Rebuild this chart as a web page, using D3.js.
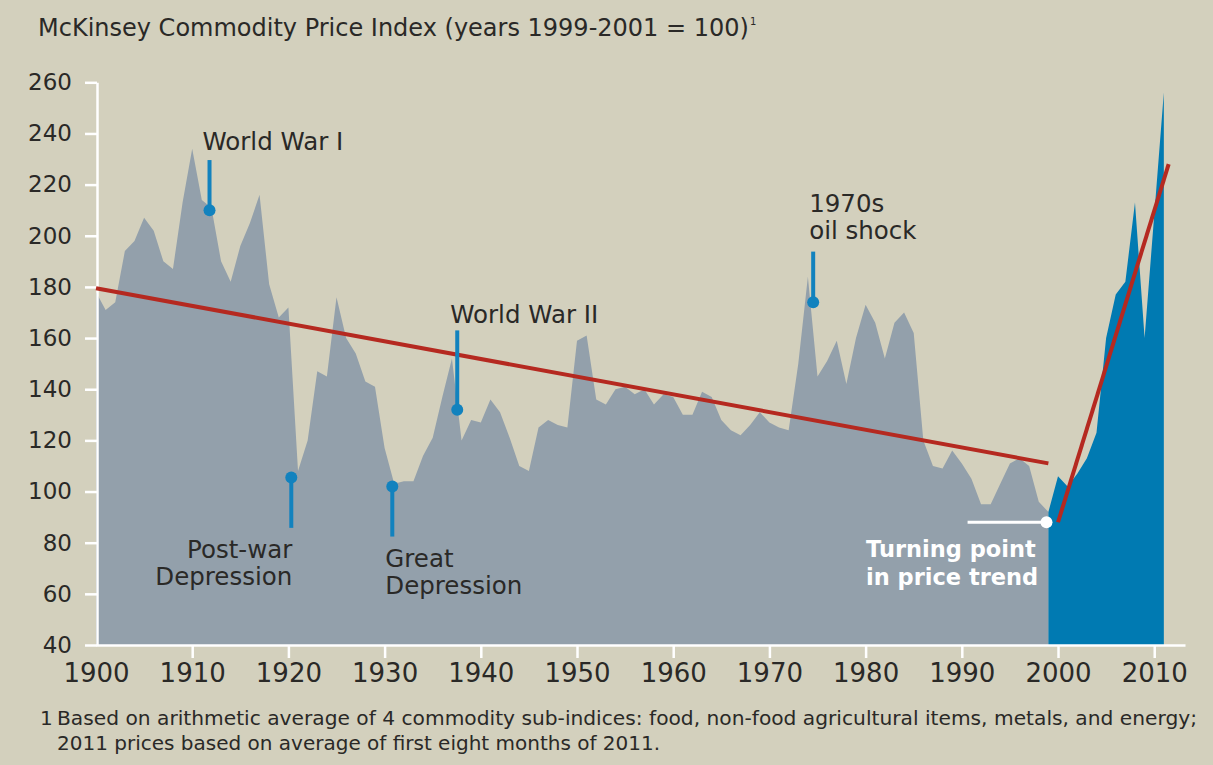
<!DOCTYPE html>
<html>
<head>
<meta charset="utf-8">
<script src="https://cdn.jsdelivr.net/npm/d3@7"></script>
<style>
  body { margin: 0; background: #d3d0bd; }
  text { font-family: "DejaVu Sans", sans-serif; fill: #2a2927; }
</style>
</head>
<body>
<div id="chart"></div>
<script>

// index values (1999-2001 = 100)
const grayYears = d3.range(1900, 2000);
const grayValues = [
  178, 171, 174, 194, 198, 207, 202, 190, 187, 213,
  234, 214, 211, 190, 182, 196, 205, 216, 181, 168,
  172, 108, 120, 147, 145, 176, 160, 154, 143, 141,
  117, 103, 104, 104, 114, 121, 137, 152, 120, 128,
  127, 136, 131, 121, 110, 108, 125, 128, 126, 125,
  159, 161, 136, 134, 140, 141, 138, 140, 134, 138,
  137, 130, 130, 139, 137, 128, 124, 122, 126, 131,
  127, 125, 124, 150, 184, 145, 151, 159, 142, 160,
  173, 166, 152, 166, 170, 162, 120, 110, 109, 116,
  111, 105, 95, 95, 103, 111, 113, 110, 96, 92
];

const blueYears = [1999, 2000, 2001, 2002, 2003, 2004, 2005, 2006, 2007, 2008, 2009, 2010, 2011];
const blueValues = [92, 106, 102, 107, 113, 123, 160, 177, 182, 213, 160, 208, 256];

// trend lines [year, value]
const trendOld = [[1900, 179.5], [1999, 111]];
const trendNew = [[2000, 88], [2011.5, 228]];

const yTicks = [40, 60, 80, 100, 120, 140, 160, 180, 200, 220, 240, 260];
const xTicks = [1900, 1910, 1920, 1930, 1940, 1950, 1960, 1970, 1980, 1990, 2000, 2010];

// event markers: dot year/value and where the stem ends
const eventNames = [["World War I"], ["Post-war", "Depression"], ["Great", "Depression"], ["World War II"], ["1970s", "oil shock"]];
const eventYears = [1911.8, 1920.3, 1930.8, 1937.55, 1974.55];
const eventValues = [210, 105.5, 102, 132, 174];
const eventStemTo = [229.6, 85.8, 82.4, 163, 193.8];

const turnYear = 1998.8;
const turnValue = 88;
const turnLineFrom = 1990.6;

const title = "McKinsey Commodity Price Index (years 1999-2001 = 100)";
const footnote = [
  "Based on arithmetic average of 4 commodity sub-indices: food, non-food agricultural items, metals, and energy;",
  "2011 prices based on average of first eight months of 2011."
];

const width = 1213, height = 765;

const svg = d3.select("#chart")
  .append("svg")
  .attr("width", width)
  .attr("height", height);

svg.append("rect")
  .attr("width", width)
  .attr("height", height)
  .attr("fill", "#d3d0bd");

// scales
const x = d3.scaleLinear().domain([1900, 2013.2]).range([96, 1185]);
const y = d3.scaleLinear().domain([40, 260]).range([645, 82.3]);

const area = d3.area()
  .x(d => x(d[0]))
  .y0(y(40))
  .y1(d => y(d[1]));

svg.append("path")
  .datum(grayYears.map((yr, i) => [yr, grayValues[i]]))
  .attr("fill", "#93a0ab")
  .attr("d", area);

svg.append("path")
  .datum(blueYears.map((yr, i) => [yr, blueValues[i]]))
  .attr("fill", "#007ab2")
  .attr("d", area);

// axes
const yAxis = svg.append("g")
  .attr("transform", "translate(97,0)")
  .call(d3.axisLeft(y).tickValues(yTicks).tickSize(12).tickSizeOuter(0).tickPadding(13));

const xAxis = svg.append("g")
  .attr("transform", `translate(0,${y(40)})`)
  .call(d3.axisBottom(x).tickValues(xTicks).tickSize(13).tickSizeOuter(0).tickPadding(6).tickFormat(d3.format("d")));

[yAxis, xAxis].forEach(g => {
  g.select(".domain").attr("stroke", "#fff").attr("stroke-width", 2.5);
  g.selectAll(".tick line").attr("stroke", "#fff").attr("stroke-width", 2.5);
  g.selectAll(".tick text")
    .attr("fill", "#2a2927")
    .style("font-family", "DejaVu Sans, sans-serif");
});
yAxis.selectAll(".tick text").attr("font-size", "23px");
xAxis.selectAll(".tick text").attr("font-size", "26px");
// hide the 1900 tick, the y axis stands there
xAxis.selectAll(".tick").filter(d => d === 1900).select("line").remove();

// trend lines
const line = d3.line().x(d => x(d[0])).y(d => y(d[1]));
[trendOld, trendNew].forEach(t => {
  svg.append("path")
    .datum(t)
    .attr("fill", "none")
    .attr("stroke", "#b52920")
    .attr("stroke-width", 4)
    .attr("d", line);
});

// event markers
const labelLayout = [
  { dx: -7, dy: -10, anchor: "start", at: "top" },
  { dx: 1, dy: 30, anchor: "end", at: "bottom" },
  { dx: -7, dy: 30, anchor: "start", at: "bottom" },
  { dx: -7, dy: -7, anchor: "start", at: "top" },
  { dx: -4, dy: -13, anchor: "start", at: "top" }
];

eventNames.forEach((lines, i) => {
  const ex = x(eventYears[i]);
  svg.append("line")
    .attr("x1", ex).attr("x2", ex)
    .attr("y1", y(eventValues[i])).attr("y2", y(eventStemTo[i]))
    .attr("stroke", "#1282be")
    .attr("stroke-width", 4);
  svg.append("circle")
    .attr("cx", ex).attr("cy", y(eventValues[i]))
    .attr("r", 6)
    .attr("fill", "#1282be");

  const lay = labelLayout[i];
  const stemEnd = y(eventStemTo[i]);
  const t = svg.append("text")
    .attr("text-anchor", lay.anchor)
    .attr("font-size", "24.5px");
  lines.forEach((s, k) => {
    let ty;
    if (lay.at === "top") ty = stemEnd + lay.dy - (lines.length - 1 - k) * 27;
    else ty = stemEnd + lay.dy + k * 27;
    t.append("tspan").attr("x", ex + lay.dx).attr("y", ty).text(s);
  });
});

// turning point marker
svg.append("line")
  .attr("x1", x(turnLineFrom)).attr("x2", x(turnYear))
  .attr("y1", y(turnValue)).attr("y2", y(turnValue))
  .attr("stroke", "#fff")
  .attr("stroke-width", 3);
svg.append("circle")
  .attr("cx", x(turnYear)).attr("cy", y(turnValue))
  .attr("r", 6)
  .attr("fill", "#fff");
const tp = svg.append("text")
  .attr("font-size", "22.5px")
  .attr("font-weight", "bold")
  .style("fill", "#fff");
tp.append("tspan").attr("x", 866).attr("y", 557).text("Turning point");
tp.append("tspan").attr("x", 866).attr("y", 585).text("in price trend");

// title
const tt = svg.append("text")
  .attr("x", 38)
  .attr("y", 36)
  .attr("font-size", "24px");
tt.append("tspan").text(title);
tt.append("tspan").attr("font-size", "10px").attr("dy", -11).attr("dx", 1).text("1");

// footnote
svg.append("text")
  .attr("x", 40).attr("y", 725)
  .attr("font-size", "20px")
  .text("1");
footnote.forEach((s, i) => {
  svg.append("text")
    .attr("x", 57).attr("y", 725 + i * 25)
    .attr("font-size", "20px")
    .attr("textLength", i === 0 ? 1140 : null)
    .attr("lengthAdjust", "spacingAndGlyphs")
    .text(s);
});

</script>
</body>
</html>
